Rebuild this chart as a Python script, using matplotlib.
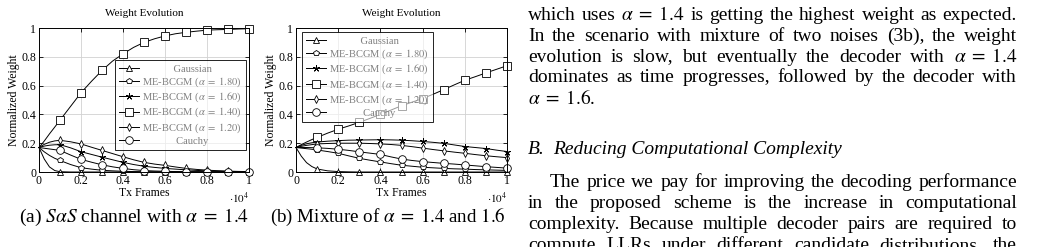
import re
import matplotlib
matplotlib.use("Agg")
import matplotlib.pyplot as plt
from matplotlib.ticker import FuncFormatter

plt.rcParams["font.family"] = ["Liberation Serif", "DejaVu Serif"]
plt.rcParams["mathtext.fontset"] = "stix"

W, H = 1038, 247

# transmitted frames (x axis)
frames = [0, 250, 500, 750, 1000, 1500, 2000, 2500, 3000, 3500, 4000, 4500,
          5000, 5500, 6000, 6500, 7000, 7500, 8000, 8500, 9000, 9500, 10000]

labels = ["Gaussian",
          r"ME-BCGM ($\alpha\;=\;1.80$)",
          r"ME-BCGM ($\alpha\;=\;1.60$)",
          r"ME-BCGM ($\alpha\;=\;1.40$)",
          r"ME-BCGM ($\alpha\;=\;1.20$)",
          "Cauchy"]

# (a) SaS channel with alpha = 1.4
a_gauss = [0.17, 0.09, 0.035, 0.01, 0.002, 0, 0, 0, 0, 0, 0, 0,
           0, 0, 0, 0, 0, 0, 0, 0, 0, 0, 0]
a_180 = [0.17, 0.14, 0.115, 0.095, 0.08, 0.052, 0.03, 0.02, 0.012, 0.008, 0.005, 0.003,
         0.002, 0.001, 0.001, 0.001, 0, 0, 0, 0, 0, 0, 0]
a_160 = [0.17, 0.18, 0.186, 0.189, 0.19, 0.168, 0.141, 0.122, 0.103, 0.085, 0.067, 0.052,
         0.04, 0.032, 0.025, 0.02, 0.015, 0.011, 0.008, 0.006, 0.004, 0.003, 0.002]
a_140 = [0.17, 0.215, 0.265, 0.312, 0.36, 0.455, 0.55, 0.63, 0.705, 0.77, 0.82, 0.865,
         0.9, 0.925, 0.945, 0.96, 0.97, 0.978, 0.985, 0.988, 0.99, 0.993, 0.995]
a_120 = [0.17, 0.192, 0.207, 0.216, 0.22, 0.21, 0.195, 0.172, 0.15, 0.128, 0.106, 0.085,
         0.067, 0.055, 0.046, 0.035, 0.025, 0.018, 0.013, 0.009, 0.006, 0.004, 0.003]
a_cauchy = [0.17, 0.165, 0.16, 0.155, 0.15, 0.118, 0.088, 0.068, 0.05, 0.036, 0.025, 0.016,
            0.01, 0.007, 0.005, 0.003, 0.002, 0.002, 0.001, 0.001, 0.001, 0, 0]

# (b) mixture of alpha = 1.4 and 1.6
b_gauss = [0.17, 0.11, 0.065, 0.038, 0.021, 0.008, 0.003, 0.001, 0, 0, 0, 0,
           0, 0, 0, 0, 0, 0, 0, 0, 0, 0, 0]
b_180 = [0.17, 0.166, 0.162, 0.158, 0.153, 0.142, 0.13, 0.112, 0.095, 0.082, 0.07, 0.058,
         0.047, 0.04, 0.033, 0.029, 0.025, 0.022, 0.02, 0.017, 0.015, 0.013, 0.011]
b_160 = [0.17, 0.185, 0.196, 0.203, 0.208, 0.214, 0.218, 0.221, 0.222, 0.223, 0.224, 0.223,
         0.221, 0.217, 0.212, 0.206, 0.199, 0.188, 0.177, 0.17, 0.163, 0.152, 0.142]
b_140 = [0.17, 0.19, 0.208, 0.225, 0.24, 0.27, 0.297, 0.32, 0.345, 0.372, 0.4, 0.43,
         0.46, 0.485, 0.51, 0.54, 0.572, 0.605, 0.637, 0.662, 0.688, 0.713, 0.738]
b_120 = [0.17, 0.178, 0.185, 0.19, 0.195, 0.198, 0.2, 0.2, 0.2, 0.198, 0.195, 0.191,
         0.185, 0.176, 0.166, 0.156, 0.147, 0.138, 0.13, 0.121, 0.113, 0.106, 0.1]
b_cauchy = [0.17, 0.17, 0.17, 0.169, 0.168, 0.164, 0.158, 0.15, 0.14, 0.131, 0.122, 0.105,
            0.09, 0.08, 0.072, 0.066, 0.06, 0.055, 0.049, 0.043, 0.037, 0.032, 0.027]

markers = ["^", "p", (5, 2, 0), "s", "d", "o"]
msizes = [4, 4, 5, 5.5, 4, 5.5]
# markers only every 1000 frames, none at 0
mark_idx = [i for i, f in enumerate(frames) if f > 0 and f % 1000 == 0]

fig = plt.figure(figsize=(W / 100, H / 100), dpi=100)


def px_axes(x0, y0, x1, y1):
    return fig.add_axes([x0 / W, 1 - y1 / H, (x1 - x0) / W, (y1 - y0) / H])


def draw_panel(ax, series):
    for ys, lab, m, ms in zip(series, labels, markers, msizes):
        ax.plot(frames, ys, color="k", lw=0.7, marker=m, ms=ms, mew=0.6,
                mfc="white", mec="k", markevery=mark_idx, label=lab, clip_on=False)
    ax.set_xlim(0, 10000)
    ax.set_ylim(0, 1)
    ax.set_xticks(range(0, 10001, 2000))
    ax.set_yticks([0, 0.2, 0.4, 0.6, 0.8, 1])
    fmt = FuncFormatter(lambda v, p: f"{v / 1e4:g}")
    fmt.set_offset_string(r"$\cdot 10^4$")
    ax.xaxis.set_major_formatter(fmt)
    ax.yaxis.set_major_formatter(FuncFormatter(lambda v, p: f"{v:g}"))
    ax.xaxis.get_offset_text().set_fontsize(8)
    ax.tick_params(direction="in", top=True, right=True, length=3, width=0.6,
                   labelsize=8.5, pad=2)
    ax.grid(True, color="0.82", lw=0.6)
    ax.set_axisbelow(True)
    for s in ax.spines.values():
        s.set_linewidth(0.7)
    ax.set_title("Weight Evolution", fontsize=8, pad=9)
    ax.set_xlabel("Tx Frames", fontsize=8.5, labelpad=0)
    ax.set_ylabel("Normalized Weight", fontsize=8.5, labelpad=1)


def make_legend(ax, **kw):
    leg = ax.legend(fontsize=7.6, borderaxespad=0, fancybox=False, handlelength=1.9,
                    handletextpad=0.3, labelspacing=0.17, borderpad=0.4, **kw)
    fr = leg.get_frame()
    fr.set_alpha(None)
    fr.set_facecolor((1, 1, 1, 0.6))
    fr.set_edgecolor("k")
    fr.set_linewidth(0.6)
    for t in leg.get_texts():
        t.set_color("0.5")
    return leg


def center_labels(leg, renderer):
    # pgfplots centres legend text: pad the short labels with spaces
    texts = leg.get_texts()
    widths = [t.get_window_extent(renderer).width for t in texts]
    wmax = max(widths)
    for t, w in zip(texts, widths):
        target = w + (wmax - w) / 2
        s = t.get_text()
        while t.get_window_extent(renderer).width < target - 1.2:
            s = " " + s
            t.set_text(s)


ax1 = px_axes(39, 28, 249, 172)
draw_panel(ax1, [a_gauss, a_180, a_160, a_140, a_120, a_cauchy])
leg1 = make_legend(ax1, loc="upper right", bbox_to_anchor=(0.986, 0.778))

ax2 = px_axes(296, 28, 507, 172)
draw_panel(ax2, [b_gauss, b_180, b_160, b_140, b_120, b_cauchy])
leg2 = make_legend(ax2, loc="upper left", bbox_to_anchor=(0.028, 0.972))

fig.canvas.draw()
r = fig.canvas.get_renderer()
center_labels(leg1, r)
center_labels(leg2, r)

# sub captions
fig.text(134.5 / W, 1 - 217 / H, r"(a) $S\alpha S$ channel with $\alpha\;=\;1.4$",
         fontsize=14, ha="center", va="center")
fig.text(388 / W, 1 - 217 / H, r"(b) Mixture of $\alpha\;=\;1.4$ and $1.6$",
         fontsize=13.7, ha="center", va="center")

# body text of the paper column
body_size = 14
x_left, x_right = 528, 1017
line_gap = 21


def put_line(text, x0, y, justify=True, **kw):
    toks = re.findall(r"\$[^$]*\$\S*|\S+", text)
    arts = [fig.text(0, 1 - y / H, t, fontsize=body_size, va="baseline", **kw) for t in toks]
    ws = [a.get_window_extent(r).width for a in arts]
    if justify and len(toks) > 1:
        gap = (x_right - x0 - sum(ws)) / (len(toks) - 1)
    else:
        gap = fig.text(0, 0, " ", fontsize=body_size).get_window_extent(r).width
    x = x0
    for a, w in zip(arts, ws):
        a.set_x(x / W)
        x += w + gap


para1 = [r"which uses $\alpha\;=\;1.4$ is getting the highest weight as expected.",
         "In the scenario with mixture of two noises (3b), the weight",
         r"evolution is slow, but eventually the decoder with $\alpha\;=\;1.4$",
         "dominates as time progresses, followed by the decoder with",
         r"$\alpha\;=\;1.6$."]
para2 = ["The price we pay for improving the decoding performance",
         "in the proposed scheme is the increase in computational",
         "complexity. Because multiple decoder pairs are required to",
         "compute LLRs under different candidate distributions, the"]

for i, line in enumerate(para1):
    put_line(line, x_left, 19.5 + line_gap * i, justify=(i < len(para1) - 1))

fig.text(x_left / W, 1 - 154 / H, "B.", fontsize=body_size, style="italic", va="baseline")
fig.text(553 / W, 1 - 154 / H, "Reducing Computational Complexity",
         fontsize=body_size, style="italic", va="baseline")

for i, line in enumerate(para2):
    put_line(line, 550 if i == 0 else x_left, 187 + line_gap * i)

fig.savefig("out.png", dpi=100)
